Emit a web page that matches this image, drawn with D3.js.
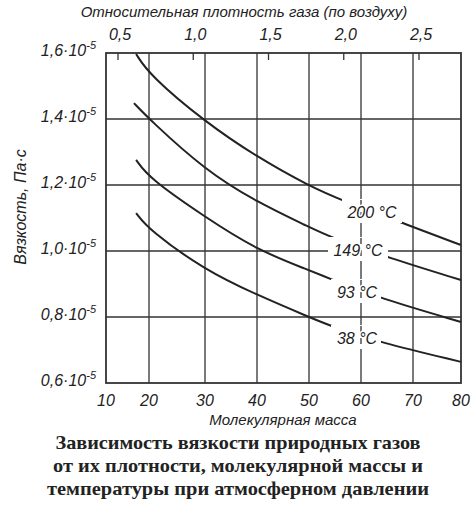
<!DOCTYPE html>
<html><head><meta charset="utf-8">
<script src="https://cdn.jsdelivr.net/npm/d3@7"></script>
<style>body{margin:0;background:#fff}text{font-family:"Liberation Sans",Arial,sans-serif;font-style:italic;fill:#222}</style>
</head><body><div id="chart"></div>
<script>
// molecular mass ticks (bottom) and relative density ticks (top)
const massTicks = [10, 20, 30, 40, 50, 60, 70, 80];
const densityTicks = [0.5, 1.0, 1.5, 2.0, 2.5];
const viscTicks = [0.6, 0.8, 1.0, 1.2, 1.4, 1.6];

// curves: [molecular mass, viscosity *1e-5]
const c200 = [[17, 1.597], [20, 1.535], [30, 1.391], [40, 1.285], [50, 1.197], [56.5, 1.152], [69, 1.079], [80, 1.018]];
const c149 = [[16.5, 1.448], [20, 1.4], [30, 1.245], [40, 1.148], [50, 1.073], [54, 1.042], [65.4, 0.979], [80, 0.912]];
const c93 = [[17, 1.276], [20, 1.221], [30, 1.103], [40, 1.003], [50, 0.942], [54.6, 0.912], [63.4, 0.858], [80, 0.785]];
const c38 = [[17, 1.115], [20, 1.064], [30, 0.942], [40, 0.867], [50, 0.8], [54.6, 0.77], [63.4, 0.724], [80, 0.664]];
const curves = [
  { name: "200 °C", data: c200, lx: 372, ly: 212 },
  { name: "149 °C", data: c149, lx: 358, ly: 250 },
  { name: "93 °C", data: c93, lx: 357, ly: 292 },
  { name: "38 °C", data: c38, lx: 357, ly: 338 }
];
const captionLines = [
  "Зависимость вязкости природных газов",
  "от их плотности, молекулярной массы  и",
  "температуры  при  атмосферном давлении"
];

const svg = d3.select("#chart").append("svg").attr("width", 474).attr("height", 511);

// hand drawn grid is a bit uneven, so piecewise scale
const x = d3.scaleLinear().domain(massTicks).range([106, 149, 205, 257, 309, 361, 413, 461]);
const xTop = d3.scaleLinear().domain([0.5, 2.5]).range([118, 419]);
const y = d3.scaleLinear().domain([0.6, 1.6]).range([383, 53]);

// grid
svg.append("g").selectAll("line").data(massTicks.slice(1, -1)).enter().append("line")
  .attr("x1", d => x(d)).attr("x2", d => x(d)).attr("y1", 53).attr("y2", 383)
  .attr("stroke", "#333").attr("stroke-width", 1.3);
svg.append("g").selectAll("line").data(viscTicks.slice(1, -1)).enter().append("line")
  .attr("x1", 106).attr("x2", 461).attr("y1", d => y(d)).attr("y2", d => y(d))
  .attr("stroke", "#333").attr("stroke-width", 1.3);
svg.append("rect").attr("x", 106).attr("y", 53).attr("width", 355).attr("height", 330)
  .attr("fill", "none").attr("stroke", "#333").attr("stroke-width", 1.8);

// top ticks
svg.append("g").selectAll("line").data(densityTicks).enter().append("line")
  .attr("x1", d => xTop(d)).attr("x2", d => xTop(d)).attr("y1", 53).attr("y2", 60)
  .attr("stroke", "#333").attr("stroke-width", 1.3);
svg.append("g").selectAll("text").data(densityTicks).enter().append("text")
  .attr("x", d => xTop(d) + 2).attr("y", 40).attr("text-anchor", "middle").attr("font-size", 16)
  .text(d => d.toFixed(1).replace(".", ","));
svg.append("text").attr("x", 244).attr("y", 17).attr("text-anchor", "middle").attr("font-size", 15)
  .text("Относительная плотность газа (по воздуху)");

// bottom labels
svg.append("g").selectAll("text").data(massTicks).enter().append("text")
  .attr("x", d => x(d)).attr("y", 406).attr("text-anchor", "middle").attr("font-size", 16)
  .text(d => d);
svg.append("text").attr("x", 283).attr("y", 425).attr("text-anchor", "middle").attr("font-size", 15)
  .text("Молекулярная масса");

// y labels
const yl = svg.append("g").selectAll("text").data(viscTicks).enter().append("text")
  .attr("x", 96).attr("y", d => y(d) + 3).attr("text-anchor", "end").attr("font-size", 16);
yl.append("tspan").text(d => d.toFixed(1).replace(".", ",") + "·10");
yl.append("tspan").attr("dy", -7).attr("font-size", 11).text("-5");
svg.append("text").attr("transform", "translate(26,207) rotate(-90)").attr("text-anchor", "middle")
  .attr("font-size", 16).text("Вязкость, Па·с");

// curves
const line = d3.line().x(d => x(d[0])).y(d => y(d[1])).curve(d3.curveBasis);
svg.append("g").selectAll("path").data(curves).enter().append("path")
  .attr("d", d => line(d.data)).attr("fill", "none").attr("stroke", "#222").attr("stroke-width", 2);

// labels with white gap
const lg = svg.append("g").selectAll("g").data(curves).enter().append("g");
lg.append("rect").attr("x", d => d.lx - 30).attr("y", d => d.ly - 13)
  .attr("width", d => d.name.length > 5 ? 60 : 50).attr("height", 24).attr("fill", "#fff")
  .attr("transform", d => d.name.length > 5 ? null : "translate(4,0)");
lg.append("line").attr("x1", 361).attr("x2", 361).attr("y1", d => d.ly - 12).attr("y2", d => d.ly + 11)
  .attr("stroke", "#333").attr("stroke-width", 1.3).attr("stroke-dasharray", "6,6");
lg.append("text").attr("x", d => d.lx).attr("y", d => d.ly + 6).attr("text-anchor", "middle")
  .attr("font-size", 16).attr("fill", "#222").attr("paint-order", "stroke").attr("stroke", "#fff")
  .attr("stroke-width", 3).text(d => d.name);

// caption
svg.append("g").selectAll("text").data(captionLines).enter().append("text")
  .attr("x", 238).attr("y", (d, i) => 449 + i * 23).attr("text-anchor", "middle")
  .attr("textLength", (d, i) => [365, 370, 382][i]).attr("lengthAdjust", "spacingAndGlyphs")
  .style("font-family", "'Liberation Serif','Times New Roman',serif").style("font-style", "normal")
  .style("font-weight", "bold").attr("font-size", 19).text(d => d);
</script></body></html>
